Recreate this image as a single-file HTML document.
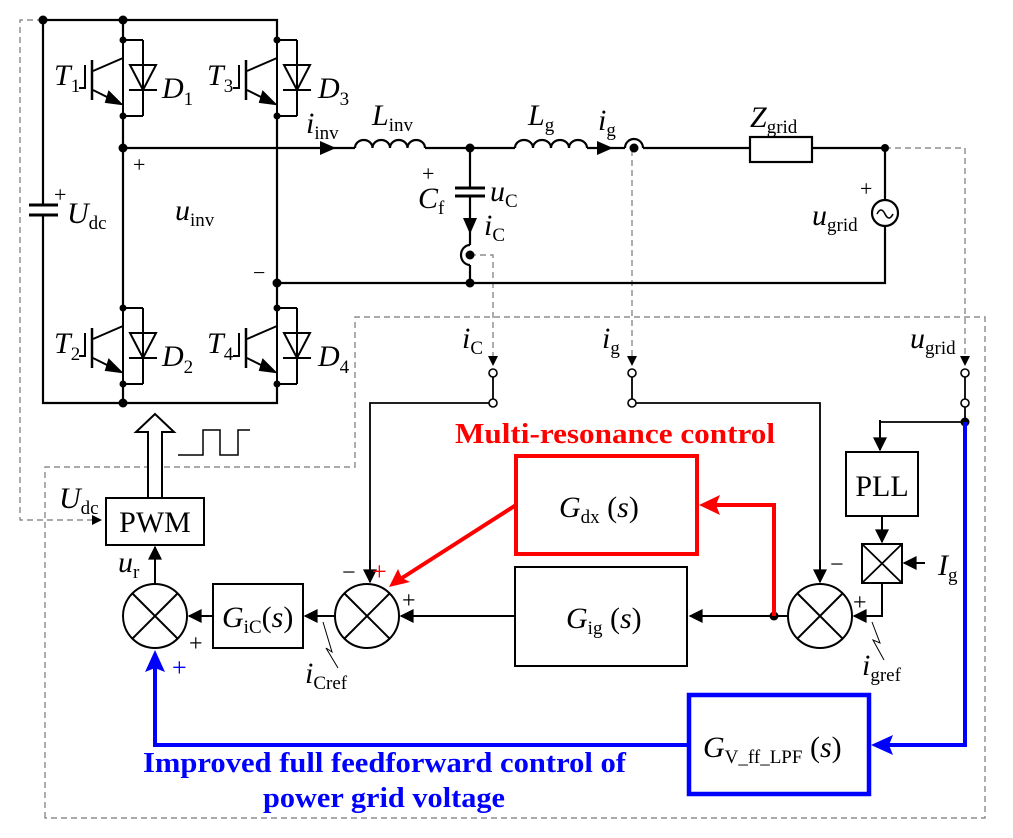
<!DOCTYPE html>
<html><head><meta charset="utf-8"><style>
html,body{margin:0;padding:0;background:#fff}
svg{display:block}
text{font-family:"Liberation Serif",serif;fill:#000}
.v{font-style:italic;font-size:30px}
.s{font-size:19px;font-style:normal}
</style></head><body>
<svg width="1013" height="838" viewBox="0 0 1013 838" xmlns="http://www.w3.org/2000/svg">
<defs>
<marker id="ab" viewBox="0 0 10 10" markerWidth="16" markerHeight="14" refX="9" refY="5" orient="auto" markerUnits="userSpaceOnUse"><path d="M0,0 L10,5 L0,10 z" fill="#000"/></marker>
<g id="sw" fill="none" stroke="#000" stroke-width="2">
<line x1="0" y1="0" x2="0" y2="76"/>
<line x1="0" y1="0" x2="20" y2="0"/><line x1="0" y1="76" x2="20" y2="76"/>
<line x1="20" y1="0" x2="20" y2="76"/>
<path d="M7,25 L33,25 L20,50 Z"/>
<line x1="6" y1="50" x2="34" y2="50"/>
<path d="M0,18 L-30,31"/>
<path d="M-30,50 L-8,61"/>
<line x1="-31" y1="20" x2="-31" y2="60" stroke-width="2.5"/>
<path d="M-38,25 L-38,48 L-44,48"/>
<circle cx="0" cy="0" r="3.5" fill="#000" stroke="none"/>
<circle cx="0" cy="76" r="3.5" fill="#000" stroke="none"/>
<path d="M-2,64 L-14,52 L-17,62 z" fill="#000"/>
</g>
</defs>

<g fill="none" stroke="#777" stroke-width="1.2" stroke-dasharray="6,4">
<path d="M43,20 L20,20 L20,520 L98,520"/>
<path d="M45,818 L45,467 L355,467 L355,317 L985,317 L985,818 Z"/>
<path d="M470,255 L493,255 L493,360"/>
<path d="M632,150 L632,360"/>
<path d="M885,148 L965,148 L965,360"/>
</g>
<g fill="#000"><path d="M92,515 L102,520 L92,525z"/><path d="M488,356 L493,366 L498,356z"/><path d="M627,356 L632,366 L637,356z"/><path d="M960,356 L965,366 L970,356z"/></g>

<g fill="none" stroke="#000" stroke-width="2.2">
<path d="M43,20 L277,20 L277,40"/>
<path d="M123,20 L123,40"/>
<path d="M43,20 L43,205 M43,215 L43,403 L277,403 L277,385"/>
<path d="M123,116 L123,308 M277,116 L277,308"/>
<path d="M123,385 L123,403"/>
<line x1="29" y1="205" x2="58" y2="205" stroke-width="3"/><line x1="29" y1="215" x2="58" y2="215" stroke-width="3"/>
<path d="M123,148 L355,148"/>
<path d="M355,148 a8.75,8 0 0 1 17.5,0 a8.75,8 0 0 1 17.5,0 a8.75,8 0 0 1 17.5,0 a8.75,8 0 0 1 17.5,0"/>
<path d="M425,148 L515,148"/>
<path d="M515,148 a9,8 0 0 1 18,0 a9,8 0 0 1 18,0 a9,8 0 0 1 18,0 a9,8 0 0 1 18,0"/>
<path d="M587,148 L625,148 M625,148 a9,9 0 0 1 18,0 M643,148 L750,148"/>
<rect x="750" y="137" width="62" height="25"/>
<path d="M812,148 L885,148 L885,200 M885,226 L885,283 L277,283"/>
<circle cx="885" cy="213" r="13"/>
<path d="M877,214 q4,-8 8,0 q4,8 8,0" stroke-width="1.6"/>
<path d="M470,148 L470,188 M470,196 L470,245 M470,265 L470,283"/>
<line x1="455" y1="188" x2="485" y2="188" stroke-width="3"/><line x1="455" y1="196" x2="485" y2="196" stroke-width="3"/>
<path d="M470,245 a9,10 0 0 0 0,20"/>
</g>
<g fill="#000">
<circle cx="43" cy="20" r="4.5"/><circle cx="123" cy="20" r="4.5"/><circle cx="123" cy="403" r="4.5"/>
<circle cx="123" cy="148" r="4.5"/><circle cx="277" cy="283" r="4.5"/><circle cx="470" cy="148" r="4.5"/>
<circle cx="470" cy="283" r="4.5"/><circle cx="885" cy="148" r="4"/><circle cx="634" cy="148" r="4.5"/><circle cx="470" cy="255" r="4.5"/>
<path d="M320,141 L336,148 L320,155z"/><path d="M597,141 L613,148 L597,155z"/><path d="M463,218 L470,234 L477,218z"/>
</g>
<use href="#sw" x="123" y="40"/><use href="#sw" x="277" y="40"/><use href="#sw" x="123" y="308"/><use href="#sw" x="277" y="308"/>

<text class="v" x="54" y="85">T<tspan class="s" dy="7">1</tspan></text>
<text class="v" x="162" y="98">D<tspan class="s" dy="7">1</tspan></text>
<text class="v" x="207" y="85">T<tspan class="s" dy="7">3</tspan></text>
<text class="v" x="318" y="98">D<tspan class="s" dy="7">3</tspan></text>
<text class="v" x="54" y="353">T<tspan class="s" dy="7">2</tspan></text>
<text class="v" x="162" y="366">D<tspan class="s" dy="7">2</tspan></text>
<text class="v" x="207" y="353">T<tspan class="s" dy="7">4</tspan></text>
<text class="v" x="318" y="366">D<tspan class="s" dy="7">4</tspan></text>
<text x="54" y="202" font-size="22">+</text>
<text class="v" x="67" y="223">U<tspan class="s" dy="6">dc</tspan></text>
<text x="133" y="172" font-size="22">+</text>
<text class="v" x="175" y="220">u<tspan class="s" dy="6">inv</tspan></text>
<text x="253" y="280" font-size="22">−</text>
<text class="v" x="306" y="133">i<tspan class="s" dy="6">inv</tspan></text>
<text class="v" x="372" y="125">L<tspan class="s" dy="6">inv</tspan></text>
<text class="v" x="528" y="125">L<tspan class="s" dy="6">g</tspan></text>
<text class="v" x="598" y="130">i<tspan class="s" dy="6">g</tspan></text>
<text class="v" x="750" y="127">Z<tspan class="s" dy="6">grid</tspan></text>
<text x="422" y="181" font-size="22">+</text>
<text class="v" x="418" y="208">C<tspan class="s" dy="6">f</tspan></text>
<text class="v" x="490" y="201">u<tspan class="s" dy="6">C</tspan></text>
<text class="v" x="484" y="235">i<tspan class="s" dy="6">C</tspan></text>
<text x="860" y="196" font-size="22">+</text>
<text class="v" x="812" y="225">u<tspan class="s" dy="6">grid</tspan></text>

<g fill="none" stroke="#000" stroke-width="1.8">
<path d="M493,377 L493,399 M632,377 L632,399 M965,377 L965,399 M965,407 L965,422"/>
<path d="M489,403 L370,403 L370,580"/>
<path d="M636,403 L820,403 L820,580"/>
<path d="M965,422 L880,422 L880,445"/>
</g>
<g fill="#fff" stroke="#000" stroke-width="1.6">
<circle cx="493" cy="373" r="4"/><circle cx="493" cy="403" r="4"/>
<circle cx="632" cy="373" r="4"/><circle cx="632" cy="403" r="4"/>
<circle cx="965" cy="373" r="4"/><circle cx="965" cy="403" r="4"/>
</g>
<circle cx="965" cy="422" r="4.5" fill="#000"/>
<text class="v" x="462" y="348">i<tspan class="s" dy="6">C</tspan></text>
<text class="v" x="602" y="348">i<tspan class="s" dy="6">g</tspan></text>
<text class="v" x="910" y="348">u<tspan class="s" dy="6">grid</tspan></text>

<path d="M148,498 L148,432 L136,432 L155,414 L174,432 L162,432 L162,498" fill="#fff" stroke="#000" stroke-width="2"/>
<path d="M178,455 L203,455 L203,430 L220,430 L220,455 L238,455 L238,430 L250,430" fill="none" stroke="#000" stroke-width="1.5"/>
<rect x="106" y="498" width="98" height="47" fill="none" stroke="#000" stroke-width="2"/>
<text x="155" y="532" font-size="30" text-anchor="middle">PWM</text>
<text class="v" x="59" y="508">U<tspan class="s" dy="6">dc</tspan></text>
<text class="v" x="118" y="572">u<tspan class="s" dy="6">r</tspan></text>

<g fill="#fff" stroke="#000" stroke-width="2">
<circle cx="155" cy="616" r="32"/><circle cx="367" cy="616" r="32"/><circle cx="820" cy="616" r="32"/>
</g>
<g stroke="#000" stroke-width="2">
<path d="M132,593 L178,639 M178,593 L132,639"/>
<path d="M344,593 L390,639 M390,593 L344,639"/>
<path d="M797,593 L843,639 M843,593 L797,639"/>
</g>
<g fill="none" stroke="#000" stroke-width="2">
<path d="M155,584 L155,547" marker-end="url(#ab)"/>
<path d="M213,616 L189,616" marker-end="url(#ab)"/>
<path d="M335,616 L305,616" marker-end="url(#ab)"/>
<path d="M515,616 L401,616" marker-end="url(#ab)"/>
<path d="M788,616 L690,616" marker-end="url(#ab)"/>
<path d="M370,560 L370,582" marker-end="url(#ab)"/>
<path d="M820,560 L820,582" marker-end="url(#ab)"/>
<path d="M880,420 L880,450" marker-end="url(#ab)"/>
<path d="M882,516 L882,542" marker-end="url(#ab)"/>
<path d="M882,583 L882,616 L870,616"/><path d="M870,616 L854,616" marker-end="url(#ab)"/>
<path d="M925,563 L904,563" marker-end="url(#ab)"/>
</g>
<circle cx="774" cy="616" r="4.5" fill="#000"/>
<rect x="213" y="584" width="90" height="64" fill="none" stroke="#000" stroke-width="2"/>
<text class="v" x="222" y="627">G<tspan class="s" dy="6">iC</tspan><tspan dy="-6" font-style="normal">(</tspan>s<tspan font-style="normal">)</tspan></text>
<rect x="515" y="567" width="172" height="99" fill="none" stroke="#000" stroke-width="2"/>
<text class="v" x="566" y="628">G<tspan class="s" dy="6">ig</tspan><tspan dy="-6" font-style="normal"> (</tspan>s<tspan font-style="normal">)</tspan></text>
<rect x="846" y="452" width="72" height="64" fill="none" stroke="#000" stroke-width="2"/>
<text x="882" y="496" font-size="30" text-anchor="middle">PLL</text>
<rect x="862" y="544" width="40" height="39" fill="none" stroke="#000" stroke-width="2"/>
<path d="M862,544 L902,583 M902,544 L862,583" stroke="#000" stroke-width="1.8"/>
<text class="v" x="938" y="575">I<tspan class="s" dy="6">g</tspan></text>
<text x="830" y="572" font-size="24">−</text>
<text x="853" y="610" font-size="24">+</text>
<text x="342" y="580" font-size="24">−</text>
<text x="372" y="580" font-size="26" style="fill:#f00">+</text>
<text x="402" y="608" font-size="24">+</text>
<text x="189" y="651" font-size="24">+</text>
<text x="172" y="676" font-size="26" style="fill:#00f">+</text>
<path d="M323,622 L332,652 L326,648 L338,668" fill="none" stroke="#000" stroke-width="1"/>
<text class="v" x="305" y="683">i<tspan class="s" dy="6">Cref</tspan></text>
<path d="M872,622 L880,643 L873,640 L884,660" fill="none" stroke="#000" stroke-width="1"/>
<text class="v" x="862" y="675">i<tspan class="s" dy="6">gref</tspan></text>

<rect x="516" y="456" width="181" height="98" fill="none" stroke="#f00" stroke-width="4"/>
<text class="v" x="559" y="517">G<tspan class="s" dy="6">dx</tspan><tspan dy="-6" font-style="normal"> (</tspan>s<tspan font-style="normal">)</tspan></text>
<path d="M774,616 L774,505 L715,505" fill="none" stroke="#f00" stroke-width="4"/>
<path d="M699,505 L720,495 L716,505 L720,515z" fill="#f00"/>
<path d="M516,505 L402,578" fill="none" stroke="#f00" stroke-width="4"/>
<path d="M389,587 L398,569 L402,578 L410,582z" fill="#f00"/>
<text x="455" y="443" font-size="29" font-weight="bold" textLength="320" lengthAdjust="spacingAndGlyphs" style="fill:#f00">Multi-resonance control</text>

<rect x="689" y="695" width="180" height="99" fill="none" stroke="#00f" stroke-width="4.5"/>
<text class="v" x="703" y="757">G<tspan class="s" dy="6">V_ff_LPF</tspan><tspan dy="-6" font-style="normal"> (</tspan>s<tspan font-style="normal">)</tspan></text>
<path d="M965,422 L965,745 L888,745" fill="none" stroke="#00f" stroke-width="4"/>
<path d="M871,745 L893,735 L889,745 L893,755z" fill="#00f"/>
<path d="M689,745 L155,745 L155,668" fill="none" stroke="#00f" stroke-width="4"/>
<path d="M155,650 L145,672 L155,668 L165,672z" fill="#00f"/>
<text x="143" y="772" font-size="29" font-weight="bold" textLength="483" lengthAdjust="spacingAndGlyphs" style="fill:#00f">Improved full feedforward control of</text>
<text x="263" y="807" font-size="29" font-weight="bold" textLength="242" lengthAdjust="spacingAndGlyphs" style="fill:#00f">power grid voltage</text>
</svg>
</body></html>
